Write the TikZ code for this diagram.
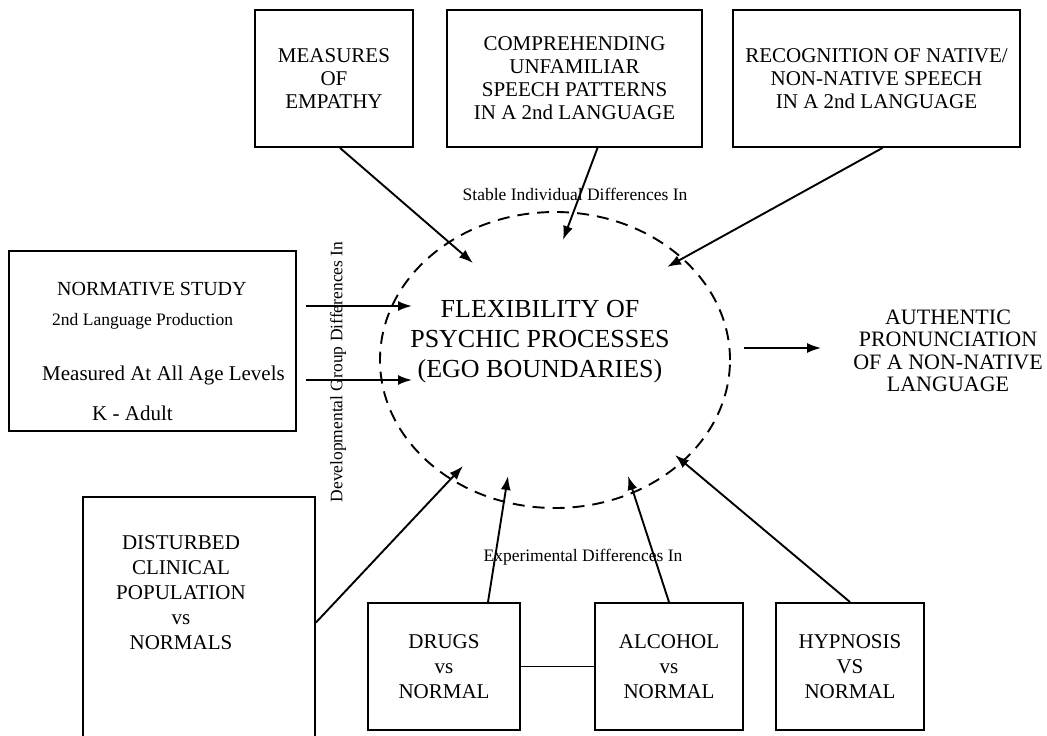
\documentclass[tikz,border=0pt]{standalone}
\usepackage{fontspec}
\setmainfont{Liberation Serif}
\usetikzlibrary{arrows.meta,shapes.geometric,calc}
\tikzset{
    study-box/.style = {draw, line width=1.9pt, rectangle, inner sep=0pt, align=center, font=\fontsize{21}{23}\selectfont},
    group-box/.style = {study-box, minimum width=148pt, minimum height=127pt, font=\fontsize{21}{25}\selectfont},
    ego-ring/.style = {ellipse, draw, line width=1.9pt, dash pattern=on 12pt off 8pt, minimum width=350pt, minimum height=296pt, inner sep=0pt},
    group-label/.style = {inner sep=0pt, font=\fontsize{17.5}{20}\selectfont},
    plain-text/.style = {inner sep=0pt, align=center},
    link/.style = {line width=1.9pt, -{Latex[length=14pt,width=10pt]}},
}

\begin{document}
\begin{tikzpicture}[x=1pt, y=-1pt]
\useasboundingbox (0,0) rectangle (1047,736);

% stable individual differences
\node [study-box, minimum width=158pt, minimum height=137pt] (empathy) at (334,78.5) {MEASURES\\OF\\EMPATHY};
\node [study-box, minimum width=255pt, minimum height=137pt] (unfamiliar) at (574.5,78.5) {COMPREHENDING\\UNFAMILIAR\\SPEECH PATTERNS\\IN A 2nd LANGUAGE};
\node [study-box, minimum width=287pt, minimum height=137pt] (recognition) at (876.5,78.5) {RECOGNITION OF NATIVE/\\NON-NATIVE SPEECH\\IN A 2nd LANGUAGE};
\node [group-label, anchor=base] (stable) at (575,200) {Stable Individual Differences In};

% the construct and its outcome
\node [ego-ring] (flex) at (555,360) {};
\node [plain-text, font=\fontsize{26}{30}\selectfont] (flex-text) at (540,342) {FLEXIBILITY OF\\PSYCHIC PROCESSES\\(EGO BOUNDARIES)};
\node [plain-text, font=\fontsize{22}{22.5}\selectfont] (outcome) at (948,351) {AUTHENTIC\\PRONUNCIATION\\OF A NON-NATIVE\\LANGUAGE};

% developmental group differences
\node [study-box, minimum width=287pt, minimum height=180pt] (normative) at (152.5,341) {};
\node [anchor=base west, inner sep=0pt, font=\fontsize{20}{24}\selectfont] (norm-title) at (57,295) {NORMATIVE STUDY};
\node [anchor=base west, inner sep=0pt, font=\fontsize{17.5}{20}\selectfont] (norm-task) at (52,325) {2nd Language Production};
\node [anchor=base west, inner sep=0pt, font=\fontsize{21}{24}\selectfont] (norm-levels) at (42,380) {Measured At All Age Levels};
\node [anchor=base west, inner sep=0pt, font=\fontsize{21}{24}\selectfont] (norm-range) at (92,420) {K - Adult};
\node [group-label, rotate=90] (developmental) at (338,372) {Developmental Group Differences In};

% experimental differences
\node [study-box, minimum width=232pt, minimum height=263pt] (disturbed) at (199,628.5) {};
\node [plain-text, font=\fontsize{21}{25}\selectfont] (disturbed-text) at (181,592.5) {DISTURBED\\CLINICAL\\POPULATION\\vs\\NORMALS};
\node [group-box, minimum width=152pt] (drugs) at (444,666.5) {DRUGS\\vs\\NORMAL};
\node [group-box] (alcohol) at (669,666.5) {ALCOHOL\\vs\\NORMAL};
\node [group-box] (hypnosis) at (850,666.5) {HYPNOSIS\\VS\\NORMAL};
\node [group-label, anchor=base] (experimental) at (583,561) {Experimental Differences In};

% arrow ends inside the ring
\coordinate (tip-empathy) at (473,263);
\coordinate (tip-unfamiliar) at (563,240);
\coordinate (tip-recognition) at (667,267);
\coordinate (tip-study) at (412,306);
\coordinate (tip-levels) at (412,380);
\coordinate (tip-disturbed) at (463,466);
\coordinate (tip-drugs) at (508,476);
\coordinate (tip-alcohol) at (628,476);
\coordinate (tip-hypnosis) at (675,455);

\draw [link] ([xshift=6pt]empathy.south) -- (tip-empathy);
\draw [link] ([xshift=23pt]unfamiliar.south) -- (tip-unfamiliar);
\draw [link] ([xshift=6pt]recognition.south) -- (tip-recognition);
\draw [link] ($(normative.east |- tip-study)+(9,0)$) -- (tip-study);
\draw [link] ($(normative.east |- tip-levels)+(9,0)$) -- (tip-levels);
\draw [link] ([xshift=13pt,yshift=12pt]flex.east) -- ([xshift=-32pt,yshift=3pt]outcome.west);
\draw [link] ([yshift=6pt]disturbed.east) -- (tip-disturbed);
\draw [link] ([xshift=44pt]drugs.north) -- (tip-drugs);
\draw [link] (alcohol.north) -- (tip-alcohol);
\draw [link] (hypnosis.north) -- (tip-hypnosis);
\draw [line width=1.9pt] (drugs.east) -- (alcohol.west);
\end{tikzpicture}
\end{document}
